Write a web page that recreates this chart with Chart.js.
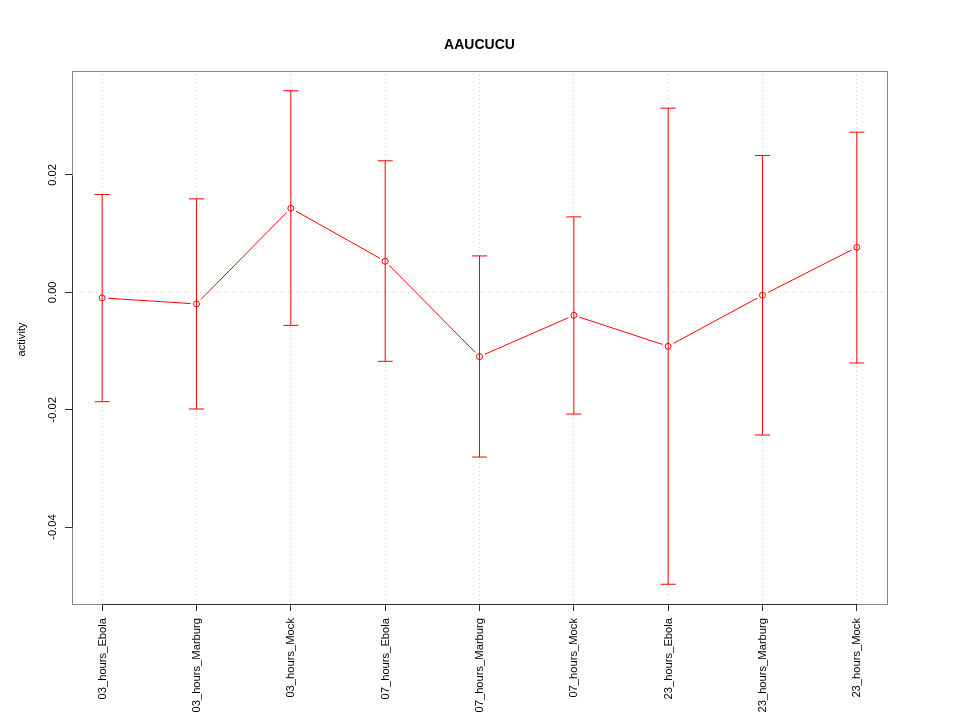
<!DOCTYPE html>
<html>
<head>
<meta charset="utf-8">
<script src="https://cdn.jsdelivr.net/npm/chart.js@4.4.1/dist/chart.umd.min.js"></script>
<style>
html,body{margin:0;padding:0;background:#fff;}
#wrap{width:960px;height:720px;position:relative;}
</style>
</head>
<body>
<div id="wrap"><canvas id="c" width="960" height="720"></canvas></div>
<script>
const chartTitle = "AAUCUCU";
const yAxisLabel = "activity";
const categories = ["03_hours_Ebola","03_hours_Marburg","03_hours_Mock","07_hours_Ebola","07_hours_Marburg","07_hours_Mock","23_hours_Ebola","23_hours_Marburg","23_hours_Mock"];
const means = [-0.00095, -0.00198, 0.01432, 0.00529, -0.01096, -0.00392, -0.0092, -0.00051, 0.00767];
const upper = [0.01666, 0.01592, 0.03434, 0.0224, 0.0062, 0.01285, 0.03137, 0.0233, 0.02728];
const lower = [-0.01864, -0.01988, -0.00563, -0.01176, -0.02807, -0.02074, -0.04974, -0.02432, -0.01204];
const yTicks = [-0.04, -0.02, 0.00, 0.02];
const yTickLabels = ["-0.04", "-0.02", "0.00", "0.02"];

const FONT = '"Liberation Sans", Arial, Helvetica, sans-serif';
const RED = '#ff0000';

const points = categories.map((c, i) => ({x: i + 1, y: means[i]}));

// R-style 4% axis extension
const yMinData = Math.min(...lower), yMaxData = Math.max(...upper);
const yPad = (yMaxData - yMinData) * 0.04;
const xPad = (categories.length - 1) * 0.04;

const rPlot = {
  id: 'rPlot',
  beforeDatasetsDraw(chart) {
    // type="b" style connecting line with gaps around the points
    const ctx = chart.ctx, xs = chart.scales.x, ys = chart.scales.y;
    const gap = 6;
    ctx.save();
    ctx.setLineDash([]);
    ctx.strokeStyle = RED;
    ctx.lineWidth = 1;
    ctx.beginPath();
    for (let i = 0; i < means.length - 1; i++) {
      const x0 = xs.getPixelForValue(i + 1), y0 = ys.getPixelForValue(means[i]);
      const x1 = xs.getPixelForValue(i + 2), y1 = ys.getPixelForValue(means[i + 1]);
      const dx = x1 - x0, dy = y1 - y0, len = Math.hypot(dx, dy);
      if (len <= 2 * gap) continue;
      const ux = dx / len, uy = dy / len;
      ctx.moveTo(x0 + ux * gap, y0 + uy * gap);
      ctx.lineTo(x1 - ux * gap, y1 - uy * gap);
    }
    ctx.stroke();
    ctx.restore();
  },
  afterDatasetsDraw(chart) {
    const ctx = chart.ctx, xs = chart.scales.x, ys = chart.scales.y;
    ctx.save();
    ctx.setLineDash([]);
    ctx.lineWidth = 1;
    for (let i = 0; i < categories.length; i++) {
      const px = xs.getPixelForValue(i + 1);
      const pt = ys.getPixelForValue(upper[i]);
      const pb = ys.getPixelForValue(lower[i]);
      ctx.strokeStyle = RED;
      ctx.beginPath();
      ctx.moveTo(px, pt); ctx.lineTo(px, pb);
      ctx.moveTo(px - 7.5, pt); ctx.lineTo(px + 7.5, pt);
      ctx.moveTo(px - 7.5, pb); ctx.lineTo(px + 7.5, pb);
      ctx.stroke();
    }
    ctx.restore();
  },
  afterDraw(chart) {
    const ctx = chart.ctx, xs = chart.scales.x, ys = chart.scales.y, ca = chart.chartArea;
    ctx.save();
    ctx.setLineDash([]);
    // box
    ctx.strokeStyle = '#888';
    ctx.lineWidth = 1;
    ctx.strokeRect(Math.round(ca.left) + 0.5, Math.round(ca.top) + 0.5, Math.round(ca.right - ca.left), Math.round(ca.bottom - ca.top));
    // axis lines
    ctx.strokeStyle = '#333';
    ctx.beginPath();
    const lx = Math.round(ca.left) + 0.5;
    ctx.moveTo(lx, Math.round(ys.getPixelForValue(yTicks[0])) + 0.5);
    ctx.lineTo(lx, Math.round(ys.getPixelForValue(yTicks[yTicks.length - 1])) + 0.5);
    const by = Math.round(ca.bottom) + 0.5;
    ctx.moveTo(Math.round(xs.getPixelForValue(1)) + 0.5, by);
    ctx.lineTo(Math.round(xs.getPixelForValue(categories.length)) + 0.5, by);
    ctx.stroke();

    ctx.fillStyle = '#000';
    // title
    ctx.font = 'bold 14px ' + FONT;
    ctx.textAlign = 'center';
    ctx.textBaseline = 'alphabetic';
    ctx.fillText(chartTitle, (ca.left + ca.right) / 2, 49);

    // y tick labels (rotated)
    ctx.font = '11.2px ' + FONT;
    yTicks.forEach((v, i) => {
      const py = ys.getPixelForValue(v);
      ctx.save();
      ctx.translate(ca.left - 16.5, py);
      ctx.rotate(-Math.PI / 2);
      ctx.textAlign = 'center';
      ctx.textBaseline = 'alphabetic';
      ctx.fillText(yTickLabels[i], 0, 0);
      ctx.restore();
    });

    // y axis label
    ctx.save();
    ctx.translate(25, (ca.top + ca.bottom) / 2 + 2);
    ctx.rotate(-Math.PI / 2);
    ctx.textAlign = 'center';
    ctx.textBaseline = 'alphabetic';
    ctx.fillText(yAxisLabel, 0, 0);
    ctx.restore();

    // x tick labels (rotated)
    categories.forEach((c, i) => {
      const px = xs.getPixelForValue(i + 1);
      ctx.save();
      ctx.translate(px + 0.5, ca.bottom + 14);
      ctx.rotate(-Math.PI / 2);
      ctx.textAlign = 'right';
      ctx.textBaseline = 'middle';
      ctx.fillText(c, 0, 0);
      ctx.restore();
    });
    ctx.restore();
  }
};

new Chart(document.getElementById('c'), {
  type: 'line',
  data: {
    datasets: [{
      data: points,
      showLine: false,
      borderColor: RED,
      borderWidth: 1,
      pointRadius: 3,
      pointHoverRadius: 3,
      pointBorderColor: RED,
      pointBackgroundColor: 'rgba(0,0,0,0)',
      pointBorderWidth: 1,
      tension: 0,
      fill: false
    }]
  },
  options: {
    responsive: false,
    animation: false,
    events: [],
    layout: {padding: {left: 0, right: 73, top: 71, bottom: 0}},
    plugins: {legend: {display: false}, title: {display: false}, tooltip: {enabled: false}},
    scales: {
      x: {
        type: 'linear',
        min: 1 - xPad,
        max: categories.length + xPad,
        afterBuildTicks: (s) => { s.ticks = categories.map((c, i) => ({value: i + 1})); },
        afterFit: (s) => { s.height = 116; },
        ticks: {display: false},
        border: {display: false, dash: [1, 3]},
        grid: {
          color: '#d3d3d3',
          lineWidth: 1,
          drawTicks: true,
          tickLength: 7,
          tickColor: '#333',
          tickBorderDash: [],
          tickWidth: 1
        }
      },
      y: {
        type: 'linear',
        min: yMinData - yPad,
        max: yMaxData + yPad,
        afterBuildTicks: (s) => { s.ticks = yTicks.map(v => ({value: v})); },
        afterFit: (s) => { s.width = 72; },
        ticks: {display: false},
        border: {display: false, dash: [1, 3]},
        grid: {
          color: (ctx) => (ctx.tick && ctx.tick.value === 0) ? '#d3d3d3' : 'rgba(0,0,0,0)',
          lineWidth: 1,
          drawTicks: true,
          tickLength: 7,
          tickColor: '#333',
          tickBorderDash: [],
          tickWidth: 1
        }
      }
    }
  },
  plugins: [rPlot]
});
</script>
</body>
</html>
